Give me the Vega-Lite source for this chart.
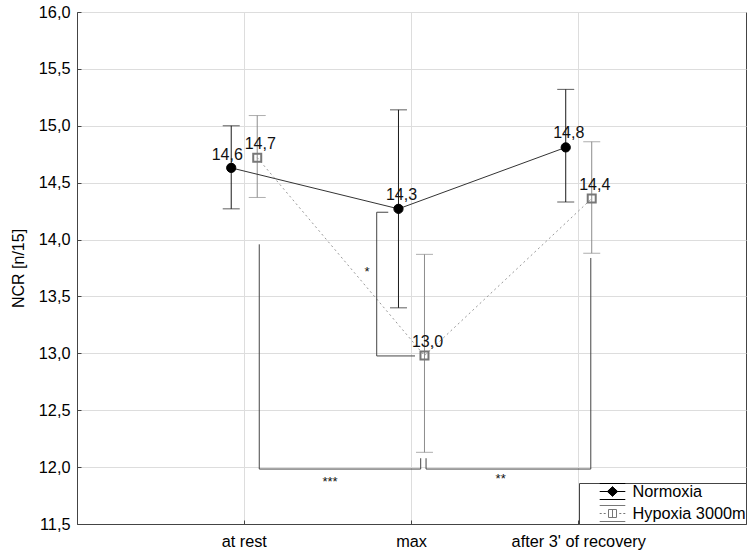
{
  "$schema": "https://vega.github.io/schema/vega-lite/v6.json",
  "width": 669,
  "height": 512,
  "autosize": {"type": "none"},
  "padding": {"left": 77, "top": 12, "right": 9, "bottom": 29},
  "background": "white",
  "config": {
    "locale": {"number": {"decimal": ",", "thousands": " ", "grouping": [3], "currency": ["", ""]}},
    "font": "Liberation Sans",
    "view": {"stroke": "#444444", "strokeWidth": 1},
    "axis": {"labelFont": "Liberation Sans", "labelFontSize": 16.3, "labelColor": "#000000", "titleFont": "Liberation Sans", "titleFontSize": 16, "titleFontWeight": "normal", "titleColor": "#000000", "domainColor": "#444444", "gridColor": "#dddddd", "gridWidth": 1, "ticks": true, "tickSize": -4, "tickColor": "#444444"}
  },
  "datasets": {
    "stats": [
      {"condition": "at rest", "series": "Normoxia", "mean": 14.63, "lo": 14.27, "hi": 15.0},
      {"condition": "max", "series": "Normoxia", "mean": 14.27, "lo": 13.40, "hi": 15.14},
      {"condition": "after 3' of recovery", "series": "Normoxia", "mean": 14.81, "lo": 14.33, "hi": 15.32},
      {"condition": "at rest", "series": "Hypoxia 3000m", "mean": 14.72, "lo": 14.37, "hi": 15.09},
      {"condition": "max", "series": "Hypoxia 3000m", "mean": 12.98, "lo": 12.13, "hi": 13.87},
      {"condition": "after 3' of recovery", "series": "Hypoxia 3000m", "mean": 14.36, "lo": 13.88, "hi": 14.86}
    ],
    "brackets": [
      {"b": "***", "i": 0, "x": 1.0897, "y": 13.958},
      {"b": "***", "i": 1, "x": 1.0897, "y": 11.983},
      {"b": "***", "i": 2, "x": 2.055, "y": 11.983},
      {"b": "***", "i": 3, "x": 2.055, "y": 12.078},
      {"b": "**", "i": 0, "x": 2.087, "y": 12.078},
      {"b": "**", "i": 1, "x": 2.087, "y": 11.983},
      {"b": "**", "i": 2, "x": 3.072, "y": 11.983},
      {"b": "**", "i": 3, "x": 3.072, "y": 13.838},
      {"b": "*", "i": 0, "x": 1.861, "y": 14.24},
      {"b": "*", "i": 1, "x": 1.792, "y": 14.24},
      {"b": "*", "i": 2, "x": 1.792, "y": 12.977},
      {"b": "*", "i": 3, "x": 2.021, "y": 12.977}
    ],
    "stars": [
      {"label": "***", "x": 1.513, "y": 11.872},
      {"label": "**", "x": 2.533, "y": 11.893},
      {"label": "*", "x": 1.734, "y": 13.712}
    ]
  },
  "layer": [
    {
      "data": {"name": "stats"},
      "encoding": {
        "x": {
          "field": "condition", "type": "nominal",
          "scale": {"type": "band", "domain": ["at rest", "max", "after 3' of recovery"], "paddingInner": 0, "paddingOuter": 0.5},
          "axis": {"title": null, "labelAngle": 0, "labelPadding": 13, "grid": true}
        },
        "xOffset": {
          "field": "series", "type": "nominal",
          "scale": {"type": "band", "domain": ["Normoxia", "Hypoxia 3000m"], "range": [57.6, 109.6], "paddingInner": 0, "paddingOuter": 0}
        }
      },
      "layer": [
        {
          "mark": {"type": "rule", "strokeWidth": 1},
          "encoding": {
            "y": {"field": "lo", "type": "quantitative", "scale": {"domain": [11.5, 16], "nice": false, "zero": false},
              "axis": {"title": "NCR [n/15]", "values": [11.5, 12, 12.5, 13, 13.5, 14, 14.5, 15, 15.5, 16], "format": ".1f", "labelPadding": 11, "titlePadding": 12, "grid": true}},
            "y2": {"field": "hi"},
            "stroke": {"condition": {"test": "datum.series === 'Normoxia'", "value": "#1a1a1a"}, "value": "#8c8c8c"}
          }
        },
        {
          "mark": {"type": "tick", "size": 17, "thickness": 1},
          "encoding": {
            "y": {"field": "lo", "type": "quantitative"},
            "color": {"condition": {"test": "datum.series === 'Normoxia'", "value": "#1a1a1a"}, "value": "#8c8c8c"}
          }
        },
        {
          "mark": {"type": "tick", "size": 17, "thickness": 1},
          "encoding": {
            "y": {"field": "hi", "type": "quantitative"},
            "color": {"condition": {"test": "datum.series === 'Normoxia'", "value": "#1a1a1a"}, "value": "#8c8c8c"}
          }
        },
        {
          "transform": [{"filter": "datum.series === 'Normoxia'"}],
          "mark": {"type": "line", "stroke": "#333333", "strokeWidth": 1},
          "encoding": {"y": {"field": "mean", "type": "quantitative"}}
        },
        {
          "transform": [{"filter": "datum.series === 'Hypoxia 3000m'"}],
          "mark": {"type": "line", "stroke": "#999999", "strokeWidth": 1, "strokeDash": [2, 3]},
          "encoding": {"y": {"field": "mean", "type": "quantitative"}}
        },
        {
          "mark": {"type": "point", "opacity": 1},
          "encoding": {
            "y": {"field": "mean", "type": "quantitative"},
            "shape": {"condition": {"test": "datum.series === 'Normoxia'", "value": "circle"}, "value": "square"},
            "fill": {"condition": {"test": "datum.series === 'Normoxia'", "value": "#000000"}, "value": "transparent"},
            "size": {"condition": {"test": "datum.series === 'Normoxia'", "value": 85}, "value": 64},
            "strokeWidth": {"condition": {"test": "datum.series === 'Normoxia'", "value": 1}, "value": 2},
            "stroke": {
              "field": "series", "type": "nominal",
              "scale": {"domain": ["Normoxia", "Hypoxia 3000m"], "range": ["#000000", "#777777"]},
              "legend": {
                "title": null, "orient": "bottom-right", "offset": 0, "padding": 0,
                "strokeColor": "#444444", "fillColor": "white", "cornerRadius": 0,
                "labelFont": "Liberation Sans", "labelFontSize": 16.3, "labelColor": "#000000",
                "symbolSize": 256, "symbolOffset": 25, "labelOffset": 11.5, "rowPadding": 1,
                "symbolStrokeWidth": 1,
                "symbolType": {"expr": "datum.value === 'Normoxia' ? 'M-1.6,-1H1.6M-1.6,0H1.6M-1.6,1H1.6M0,-0.6V0.6M0.125,-0.485V0.485M-0.125,-0.485V0.485M0.25,-0.369V0.369M-0.25,-0.369V0.369M0.375,-0.254V0.254M-0.375,-0.254V0.254M0.5,-0.138V0.138M-0.5,-0.138V0.138M0,-0.6L0.65,0L0,0.6L-0.65,0Z' : 'M-1.6,-1H1.6M-1.6,1H1.6M-1.6,0H-1.35M-1.1,0H-0.85M0.85,0H1.1M1.35,0H1.6M-0.5,-0.5H0.5V0.5H-0.5ZM0,-0.5V0.5'"}
              }
            }
          }
        },
        {
          "transform": [{"filter": "!(datum.series === 'Normoxia' && datum.condition === 'at rest')"}],
          "mark": {"type": "text", "fontSize": 16, "baseline": "alphabetic", "align": "center", "dx": 3, "dy": -9, "color": "#111111"},
          "encoding": {
            "y": {"field": "mean", "type": "quantitative"},
            "text": {"field": "mean", "type": "quantitative", "format": ".1f"}
          }
        },
        {
          "transform": [{"filter": "datum.series === 'Normoxia' && datum.condition === 'at rest'"}],
          "mark": {"type": "text", "fontSize": 16, "baseline": "alphabetic", "align": "center", "dx": -4, "dy": -8, "color": "#111111"},
          "encoding": {
            "y": {"field": "mean", "type": "quantitative"},
            "text": {"field": "mean", "type": "quantitative", "format": ".1f"}
          }
        }
      ]
    },
    {
      "layer": [
        {
          "data": {"name": "brackets"},
          "mark": {"type": "line", "stroke": "#444444", "strokeWidth": 1},
          "encoding": {
            "x": {"field": "x", "type": "quantitative", "scale": {"domain": [0, 4], "nice": false, "zero": false}, "axis": null},
            "y": {"field": "y", "type": "quantitative"},
            "detail": {"field": "b"},
            "order": {"field": "i", "type": "quantitative"}
          }
        },
        {
          "data": {"name": "stars"},
          "mark": {"type": "text", "fontSize": 13, "baseline": "middle", "align": "center", "color": "#111111"},
          "encoding": {
            "x": {"field": "x", "type": "quantitative"},
            "y": {"field": "y", "type": "quantitative"},
            "text": {"field": "label"}
          }
        }
      ]
    }
  ],
  "resolve": {"scale": {"x": "independent"}}
}
